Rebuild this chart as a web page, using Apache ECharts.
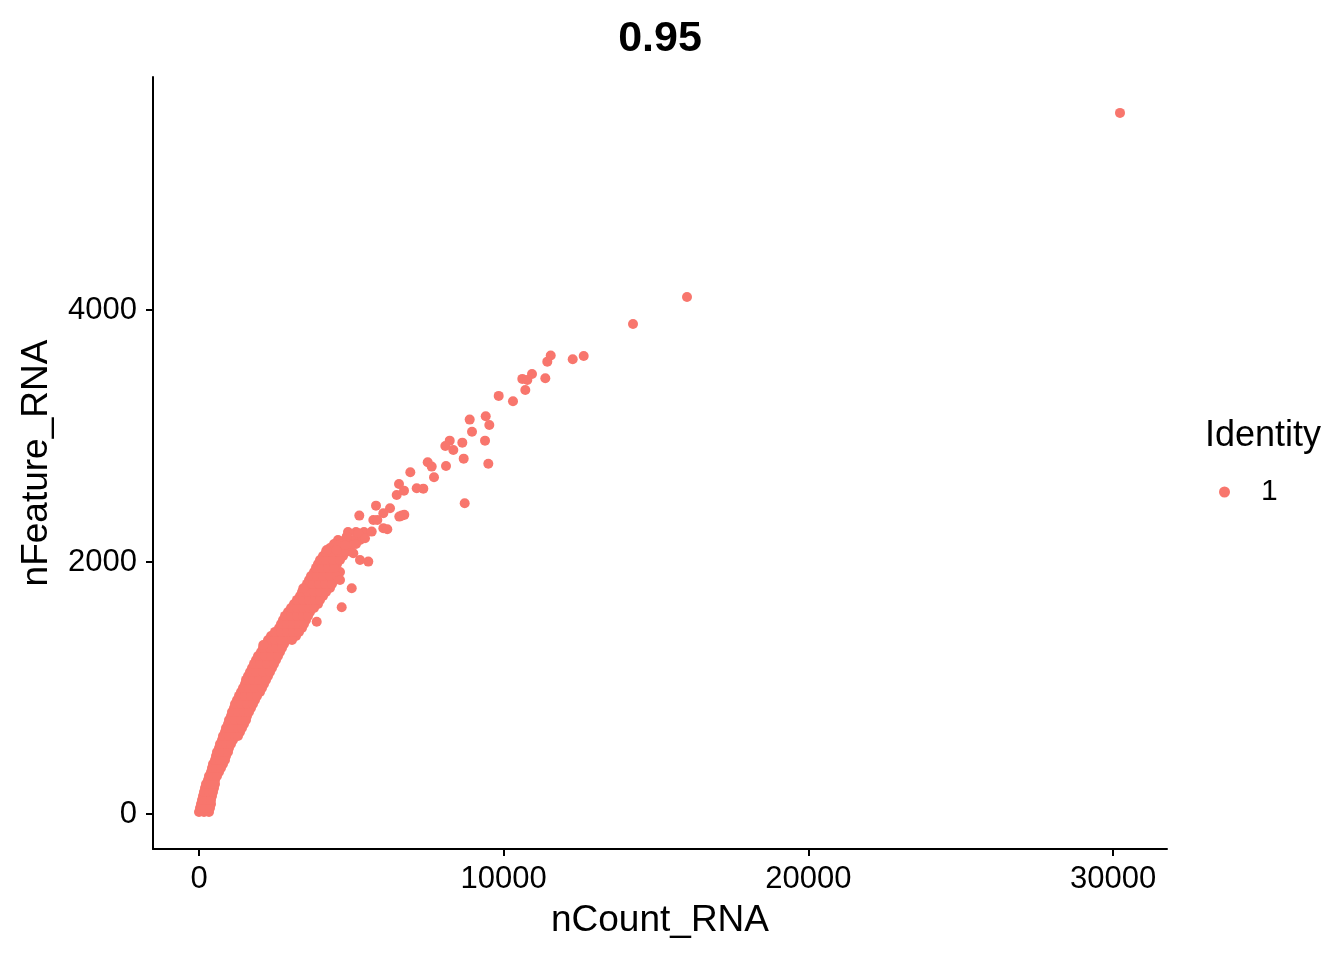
<!DOCTYPE html>
<html>
<head>
<meta charset="utf-8">
<script src="https://cdn.jsdelivr.net/npm/echarts@6/dist/echarts.min.js"></script>
<style>
  html, body { margin: 0; padding: 0; background: #ffffff; }
  #chart { width: 1344px; height: 960px; }
</style>
</head>
<body>
<div id="chart"></div>
<script>
// ---- Data ----
const plotTitle = '0.95';
const xTitle = 'nCount_RNA';
const yTitle = 'nFeature_RNA';
const legendTitle = 'Identity';
const identityName = '1';

const xTicks = [0, 10000, 20000, 30000];
const yTicks = [0, 2000, 4000];

// dense band of cells: one nFeature level per row, with nCount values in that row
const coreFeature = [16, 79, 143, 206, 270, 333, 397, 460, 524, 587,
  651, 714, 778, 841, 905, 968, 1032, 1095, 1159, 1222,
  1286, 1349, 1413, 1476, 1540, 1603, 1667, 1730, 1794, 1857,
  1921, 1984, 2048, 2111, 2175, 2238];
const coreCountByRow = [
  [0, 164, 328],
  [66, 230, 394],
  [131, 295, 427],
  [197, 361, 492],
  [295, 427, 525],
  [394, 525, 656],
  [459, 624, 788],
  [558, 722, 886],
  [656, 820, 985],
  [755, 919, 1116],
  [853, 1017, 1214, 1346],
  [952, 1116, 1313, 1477],
  [1050, 1214, 1411, 1575],
  [1149, 1346, 1543, 1707],
  [1247, 1444, 1641, 1838],
  [1378, 1575, 1772, 2002],
  [1510, 1707, 1904, 2133],
  [1608, 1805, 2035, 2265],
  [1739, 1936, 2166, 2396],
  [1871, 2068, 2297, 2527],
  [2035, 2232, 2429, 2658],
  [2199, 2396, 2593, 2790],
  [2363, 2560, 2757, 2987, 3184],
  [2626, 2823, 3019, 3216, 3380],
  [2757, 2954, 3151, 3348, 3512],
  [2921, 3118, 3315, 3512, 3643],
  [3118, 3315, 3512, 3709, 3906],
  [3315, 3512, 3709, 3906, 4070],
  [3479, 3676, 3873, 4070, 4299],
  [3610, 3807, 4004, 4234, 4464],
  [3774, 3971, 4168, 4365, 4628],
  [3906, 4103, 4299, 4529],
  [4070, 4267, 4496, 4726],
  [4299, 4496, 4693, 4956],
  [4562, 4792, 5021, 5284],
  [4890, 5153, 5415]
];

// in-between rows of the same dense band
const midFeature = [48, 111, 175, 238, 302, 365, 429, 492, 556, 619,
  683, 746, 810, 873, 937, 1000, 1064, 1127, 1191, 1254,
  1318, 1381, 1445, 1508, 1572, 1635, 1699, 1762, 1826, 1889,
  1953, 2016, 2080, 2143];
const midCountByRow = [
  [33, 197, 361],
  [98, 263, 394],
  [164, 328, 459],
  [230, 394, 525],
  [328, 459, 591],
  [427, 558, 722],
  [525, 689, 853],
  [591, 788, 952],
  [689, 886, 1050],
  [788, 985, 1182, 1280],
  [886, 1083, 1280, 1411],
  [985, 1182, 1378, 1543],
  [1083, 1280, 1477, 1641],
  [1182, 1378, 1575, 1772],
  [1313, 1510, 1707, 1904],
  [1444, 1641, 1838, 2068],
  [1543, 1772, 1969, 2199],
  [1674, 1871, 2101, 2330],
  [1805, 2002, 2232, 2462],
  [1936, 2166, 2363, 2593],
  [2101, 2330, 2527, 2724],
  [2265, 2494, 2691, 2888, 3052],
  [2494, 2691, 2888, 3085, 3282],
  [2691, 2888, 3085, 3282, 3446],
  [2823, 3019, 3216, 3413, 3577],
  [3019, 3216, 3413, 3610, 3774],
  [3216, 3413, 3610, 3807, 3971],
  [3380, 3577, 3774, 3971, 4168],
  [3545, 3741, 3938, 4135, 4365],
  [3676, 3873, 4070, 4299, 4529],
  [3840, 4037, 4234, 4431],
  [3971, 4168, 4398, 4628],
  [4168, 4365, 4595, 4824],
  [4431, 4660, 4890, 5153]
];

// scattered cells outside the dense band
const outlierCount = [5261, 5809, 6269, 6653, 6049, 5721, 5228, 4848, 5448, 4191,
  4519, 4792, 5064, 5556, 5284, 5012, 4628, 4683, 3863, 2110,
  3423, 12626, 12265, 11543, 11431, 11366, 10929, 10611, 10775, 10709,
  9836, 10305, 8884, 9410, 9528, 8960, 8228, 8642, 8084, 8346,
  9387, 8687, 9495, 8720, 8107, 7506, 7637, 6935, 7713, 6564,
  6488, 6728, 7145, 7362, 6049, 6738, 6574, 5852, 6180, 5668,
  14244, 16016, 30227];
const outlierFeature = [2368, 2447, 2426, 2368, 2268, 2333, 2228, 2201, 2188, 2095,
  2095, 2135, 2069, 2003, 2016, 1791, 1857, 1641, 1526, 1341,
  1791, 3635, 3609, 3638, 3590, 3458, 3492, 3453, 3445, 3365,
  3318, 3276, 3130, 3157, 3087, 3034, 2963, 2947, 2921, 2889,
  2963, 2820, 2780, 2466, 2762, 2791, 2757, 2712, 2672, 2619,
  2532, 2566, 2585, 2582, 2387, 2374, 2360, 2333, 2260, 2241,
  3889, 4103, 5564];

// ---- Build the point list ----
const points = [];
coreCountByRow.forEach(function (row, i) {
  row.forEach(function (c) { points.push([c, coreFeature[i]]); });
});
midCountByRow.forEach(function (row, i) {
  row.forEach(function (c) { points.push([c, midFeature[i]]); });
});
outlierCount.forEach(function (c, i) { points.push([c, outlierFeature[i]]); });

const FONT = '"Liberation Sans", Arial, Helvetica, sans-serif';
const dotColor = '#F8766D';

const chart = echarts.init(document.getElementById('chart'), null, { renderer: 'canvas' });
chart.setOption({
  backgroundColor: '#ffffff',
  animation: false,
  title: {
    text: plotTitle,
    left: 660,
    top: 18,
    padding: 0,
    textAlign: 'center',
    textStyle: { fontFamily: FONT, fontSize: 43, fontWeight: 'bold', color: '#000000' }
  },
  grid: { left: 153, right: 177, top: 77, bottom: 111, containLabel: false },
  legend: {
    show: true,
    left: 1214,
    top: 472,
    orient: 'vertical',
    icon: 'circle',
    itemWidth: 11,
    itemHeight: 11,
    itemGap: 10,
    textStyle: { fontFamily: FONT, fontSize: 30, color: '#000000', padding: [0, 0, 0, 26] },
    data: [identityName]
  },
  graphic: [{
    type: 'text',
    left: 1205,
    top: 418,
    style: { text: legendTitle, fontFamily: FONT, fontSize: 36, fill: '#000000' }
  }],
  xAxis: {
    type: 'value',
    min: -1510,
    max: 31770,
    name: xTitle,
    nameLocation: 'middle',
    nameGap: 53,
    nameTextStyle: { fontFamily: FONT, fontSize: 37, color: '#000000' },
    axisLine: { show: true, onZero: false, lineStyle: { color: '#000000', width: 2 } },
    axisTick: { show: true, length: 7, lineStyle: { color: '#000000', width: 2 }, customValues: xTicks },
    axisLabel: { fontFamily: FONT, fontSize: 31, color: '#000000', margin: 15, customValues: xTicks,
      formatter: function (v) { return String(v); } },
    splitLine: { show: false }
  },
  yAxis: {
    type: 'value',
    min: -278,
    max: 5849,
    name: yTitle,
    nameLocation: 'middle',
    nameRotate: 90,
    nameGap: 98,
    nameTextStyle: { fontFamily: FONT, fontSize: 37, color: '#000000' },
    axisLine: { show: true, onZero: false, lineStyle: { color: '#000000', width: 2 } },
    axisTick: { show: true, length: 7, lineStyle: { color: '#000000', width: 2 }, customValues: yTicks },
    axisLabel: { fontFamily: FONT, fontSize: 31, color: '#000000', margin: 16, customValues: yTicks,
      formatter: function (v) { return String(v); } },
    splitLine: { show: false }
  },
  series: [{
    name: identityName,
    type: 'scatter',
    data: points,
    symbol: 'circle',
    symbolSize: 10,
    itemStyle: { color: dotColor, opacity: 1 },
    emphasis: { disabled: true }
  }]
});
</script>
</body>
</html>
